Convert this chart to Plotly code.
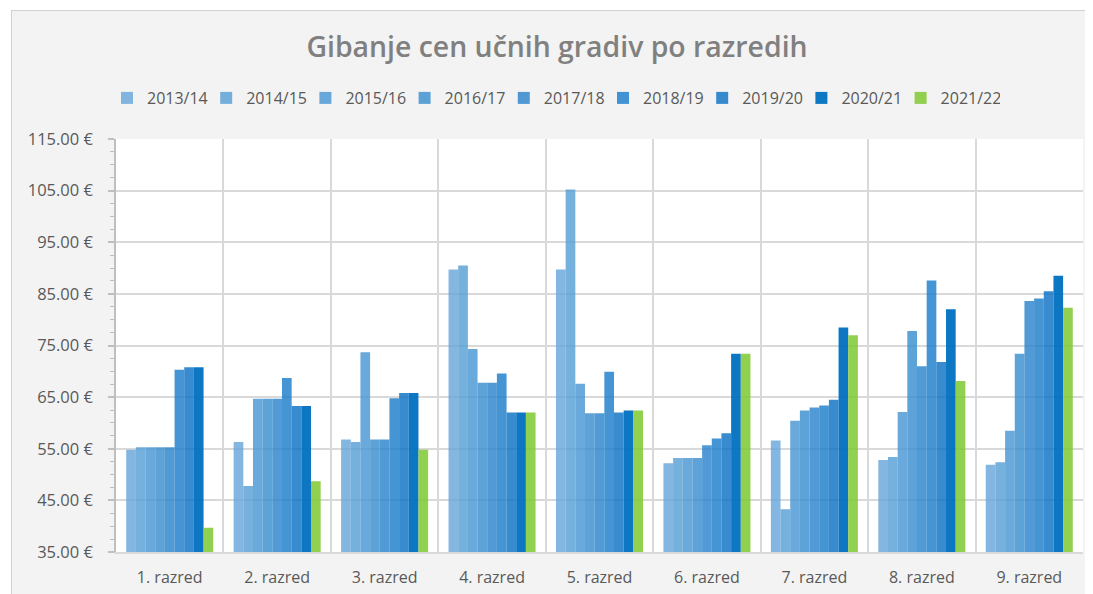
import plotly.graph_objects as go

categories = ["1. razred", "2. razred", "3. razred", "4. razred", "5. razred",
              "6. razred", "7. razred", "8. razred", "9. razred"]

years = ["2013/14", "2014/15", "2015/16", "2016/17", "2017/18",
         "2018/19", "2019/20", "2020/21", "2021/22"]

v_2013_14 = [54.8, 56.3, 56.8, 89.7, 89.7, 52.2, 56.6, 52.8, 51.9]
v_2014_15 = [55.3, 47.8, 56.3, 90.5, 105.2, 53.2, 43.3, 53.4, 52.4]
v_2015_16 = [55.3, 64.7, 73.7, 74.3, 67.6, 53.2, 60.4, 62.1, 58.5]
v_2016_17 = [55.3, 64.7, 56.8, 67.8, 61.9, 53.2, 62.4, 77.8, 73.4]
v_2017_18 = [55.3, 64.7, 56.8, 67.8, 61.9, 55.7, 63.0, 71.0, 83.6]
v_2018_19 = [70.3, 68.7, 64.8, 69.6, 69.9, 57.0, 63.4, 87.6, 84.1]
v_2019_20 = [70.8, 63.3, 65.8, 62.0, 62.0, 58.0, 64.5, 71.8, 85.5]
v_2020_21 = [70.8, 63.3, 65.8, 62.0, 62.4, 73.4, 78.5, 82.0, 88.5]
v_2021_22 = [39.7, 48.7, 54.8, 62.0, 62.4, 73.4, 77.0, 68.1, 82.3]

series = [v_2013_14, v_2014_15, v_2015_16, v_2016_17, v_2017_18,
          v_2018_19, v_2019_20, v_2020_21, v_2021_22]

colors = [
    "rgba(100,164,216,0.8)",
    "rgba(84,156,212,0.8)",
    "rgba(69,148,210,0.8)",
    "rgba(54,140,206,0.8)",
    "rgba(38,129,202,0.8)",
    "rgba(22,121,200,0.8)",
    "rgba(6,110,195,0.8)",
    "rgba(0,112,192,0.95)",
    "rgba(127,200,49,0.85)",
]

FONT = "Open Sans"
TXT = "#595959"

fig = go.Figure()
for name, vals, col in zip(years, series, colors):
    fig.add_trace(go.Bar(
        x=categories, y=vals, name=name,
        marker=dict(color=col, line=dict(width=0)),
    ))

# page body has an 8px margin; figure coordinates = screen - 8
OFF = 8
W, H = 1093 - OFF, 594 - OFF
L, R, T, B = 116 - OFF, 10, 139 - OFF, 42
pw = W - L - R
ph = H - T - B

def px_x(p):  # screen px -> paper x
    return (p - OFF - L) / pw

def px_y(p):  # screen px -> paper y
    return (H - B - (p - OFF)) / ph

shapes = [
    dict(type="rect", xref="paper", yref="paper", x0=px_x(0), x1=px_x(1100),
         y0=px_y(10), y1=px_y(0), fillcolor="white", line=dict(width=0), layer="below"),
    dict(type="rect", xref="paper", yref="paper", x0=px_x(0), x1=px_x(11),
         y0=px_y(600), y1=px_y(0), fillcolor="white", line=dict(width=0), layer="below"),
    dict(type="line", xref="paper", yref="paper", x0=px_x(11), x1=px_x(1100),
         y0=px_y(10.5), y1=px_y(10.5), line=dict(color="#d0d0d0", width=1)),
    dict(type="line", xref="paper", yref="paper", x0=px_x(11.5), x1=px_x(11.5),
         y0=px_y(10.5), y1=px_y(600), line=dict(color="#d0d0d0", width=1)),
]

fig.update_layout(
    width=W, height=H,
    margin=dict(l=L, r=R, t=T, b=B, autoexpand=False),
    paper_bgcolor="#f3f3f3",
    plot_bgcolor="white",
    barmode="group",
    bargap=0.19,
    bargroupgap=0,
    font=dict(family=FONT, color=TXT, size=16),
    title=dict(
        text="Gibanje cen učnih gradiv po razredih",
        x=px_x(557), xanchor="center", xref="paper",
        y=1 - (47 - OFF) / H, yanchor="middle",
        font=dict(family=FONT, size=28.4, color="#808080", weight=600),
    ),
    legend=dict(
        orientation="h",
        x=px_x(107), xanchor="left", xref="paper",
        y=px_y(98), yanchor="middle", yref="paper",
        entrywidth=54.2, entrywidthmode="pixels",
        bgcolor="rgba(0,0,0,0)",
        font=dict(family=FONT, size=16, color=TXT),
        traceorder="normal",
    ),
    xaxis=dict(
        type="category",
        tickson="boundaries",
        showgrid=True, gridcolor="#d9d9d9", gridwidth=1.5,
        showline=True, linecolor="#d9d9d9", linewidth=1.5,
        ticks="", ticklen=0,
        tickfont=dict(family=FONT, size=16, color=TXT),
        ticklabelstandoff=10,
        range=[-0.5, 8.5],
    ),
    yaxis=dict(
        range=[35, 115],
        dtick=10, tick0=35,
        tickformat=".2f", ticksuffix=" €",
        showgrid=True, gridcolor="#d9d9d9", gridwidth=1.5,
        showline=True, linecolor="#bfbfbf", linewidth=1.5,
        ticks="outside", ticklen=6, tickcolor="#bfbfbf", tickwidth=1.5,
        minor=dict(dtick=2.5, tick0=35, ticks="outside", ticklen=4,
                   tickcolor="#bfbfbf", tickwidth=1.2, showgrid=False),
        tickfont=dict(family=FONT, size=16.5, color=TXT),
        ticklabelstandoff=12,
        zeroline=False,
    ),
    shapes=shapes,
)

fig.write_html("out.html")
